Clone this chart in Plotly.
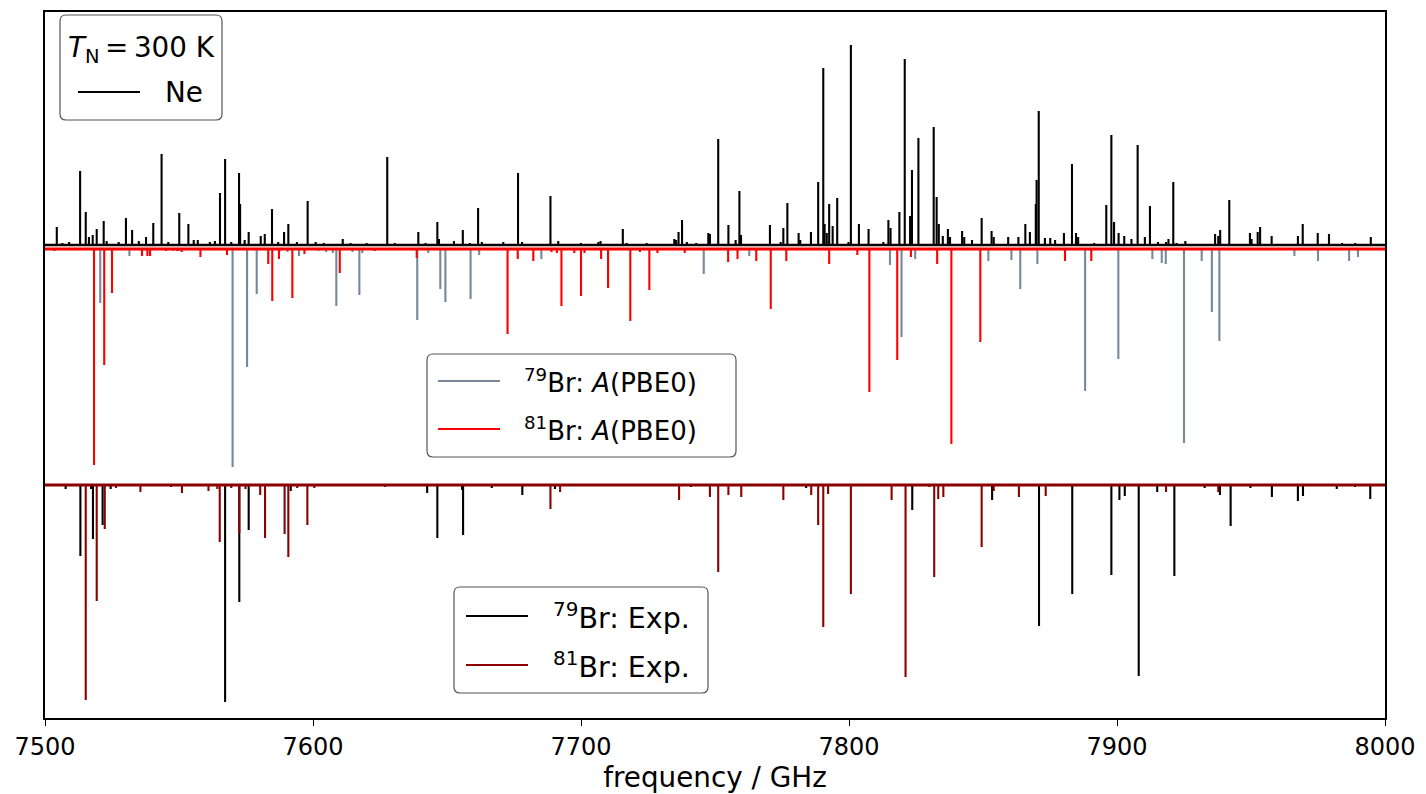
import plotly.graph_objects as go

# ---------------- data (frequency / GHz, relative intensity) ----------------
ne_freq = [7504.4, 7506.5, 7509.0, 7513.1, 7515.2, 7516.4, 7517.8, 7519.3, 7521.9, 7523.0,
           7527.5, 7530.2, 7532.5, 7535.0, 7537.7, 7540.4, 7543.5, 7546.0, 7550.1, 7553.5,
           7555.5, 7557.0, 7561.5, 7563.4, 7565.3, 7567.2, 7569.5, 7572.4, 7572.8, 7574.5,
           7576.0, 7580.5, 7582.0, 7584.7, 7587.0, 7589.2, 7590.8, 7594.0, 7598.0, 7601.0,
           7604.0, 7611.1, 7614.0, 7620.0, 7627.7, 7630.5, 7639.3, 7642.0, 7646.4, 7647.0,
           7652.6, 7655.9, 7658.5, 7661.6, 7663.0, 7671.0, 7676.5, 7678.0, 7688.6, 7691.5,
           7700.0, 7706.5, 7707.3, 7715.6, 7717.0, 7724.5, 7734.8, 7735.5, 7736.4, 7737.7,
           7739.5, 7743.0, 7747.5, 7748.1, 7751.2, 7755.0, 7757.7, 7759.1, 7759.7, 7770.5,
           7774.5, 7775.5, 7777.0, 7781.2, 7781.8, 7785.8, 7788.5, 7790.4, 7790.9, 7791.7,
           7792.6, 7793.9, 7795.6, 7799.8, 7800.7, 7803.7, 7807.3, 7812.8, 7814.7, 7815.5,
           7818.8, 7820.8, 7822.8, 7823.5, 7825.9, 7831.6, 7832.7, 7833.5, 7835.0, 7836.9,
           7837.7, 7842.2, 7843.0, 7845.9, 7849.5, 7853.2, 7854.0, 7859.4, 7863.2, 7865.8,
           7867.5, 7869.7, 7870.0, 7870.8, 7873.1, 7875.1, 7876.9, 7880.2, 7883.2, 7884.7,
           7885.5, 7891.5, 7896.0, 7897.9, 7898.9, 7900.6, 7902.7, 7905.4, 7907.7, 7910.4,
           7912.3, 7915.3, 7918.3, 7919.2, 7921.0, 7922.2, 7925.5, 7936.6, 7937.8, 7938.5,
           7941.9, 7949.6, 7950.2, 7952.5, 7953.4, 7957.7, 7967.5, 7969.3, 7974.9, 7979.1,
           7984.0, 7988.9, 7994.7]
ne_int = [18, 2, 3, 74, 33, 8, 10, 16, 24, 4,
          3, 27, 15, 4, 8, 22, 91, 3, 32, 21,
          5, 5, 3, 4, 52, 86, 3, 72, 41, 5,
          13, 9, 11, 36, 3, 13, 21, 3, 44, 3,
          2, 6, 2, 2, 88, 2, 13, 2, 23, 6,
          4, 15, 2, 37, 3, 3, 72, 3, 49, 4,
          2, 3, 4, 16, 2, 2, 6, 5, 13, 25,
          3, 2, 12, 11, 106, 20, 5, 54, 10, 20,
          3, 17, 42, 12, 5, 13, 63, 177, 21, 12,
          41, 19, 47, 3, 200, 21, 16, 3, 25, 17,
          33, 186, 29, 75, 107, 118, 48, 21, 9, 16,
          8, 14, 8, 5, 27, 14, 8, 8, 8, 21,
          13, 41, 65, 134, 7, 7, 5, 12, 81, 12,
          8, 2, 40, 110, 23, 12, 9, 6, 100, 8,
          39, 3, 3, 6, 63, 2, 4, 11, 9, 15,
          45, 12, 6, 13, 18, 9, 9, 21, 12, 11,
          2, 2, 8]

pbe79_freq = [7520.6, 7531.5, 7547.8, 7550.0, 7570.0, 7575.4, 7579.0, 7587.5, 7590.5, 7594.8,
              7602.0, 7604.9, 7607.4, 7608.7, 7614.7, 7617.3, 7618.4, 7638.9, 7643.0, 7647.5,
              7649.4, 7658.8, 7662.0, 7685.2, 7745.8, 7762.8, 7815.3, 7819.6, 7824.7, 7852.0,
              7860.6, 7863.9, 7870.3, 7888.1, 7900.5, 7913.2, 7916.7, 7918.2, 7925.0, 7931.6,
              7935.4, 7938.2, 7966.2, 7975.0, 7986.6, 7989.9]
pbe79_int = [54, 7, 2, 2, 218, 118, 45, 3, 3, 7,
             2, 3, 4, 57, 3, 46, 4, 71, 4, 40,
             53, 50, 6, 10, 25, 7, 16, 88, 10, 12,
             11, 40, 15, 142, 110, 10, 14, 15, 194, 12,
             63, 92, 7, 12, 12, 8]

pbe81_freq = [7503.5, 7518.3, 7522.1, 7525.0, 7536.2, 7538.2, 7539.2, 7545.2, 7549.3, 7551.0,
              7558.0, 7567.9, 7583.3, 7584.8, 7587.3, 7592.3, 7596.8, 7610.0, 7623.1, 7638.7,
              7672.6, 7676.4, 7682.2, 7689.0, 7691.0, 7692.7, 7697.5, 7700.0, 7701.3, 7707.5,
              7710.1, 7718.4, 7722.0, 7725.5, 7728.5, 7738.7, 7754.9, 7758.4, 7765.4, 7770.8,
              7776.6, 7792.6, 7803.1, 7807.6, 7818.0, 7823.1, 7832.9, 7838.2, 7849.0, 7880.6,
              7890.4]
pbe81_int = [2, 216, 116, 44, 7, 7, 7, 2, 2, 3,
             8, 6, 15, 52, 10, 49, 5, 24, 2, 9,
             85, 10, 12, 3, 4, 57, 4, 47, 4, 10,
             39, 72, 3, 41, 4, 4, 13, 10, 12, 60,
             12, 15, 6, 143, 111, 8, 15, 195, 93, 12,
             12]

exp79_freq = [7507.7, 7513.2, 7517.2, 7517.9, 7521.5, 7524.5, 7567.2, 7572.5, 7576.0, 7591.7,
              7642.6, 7646.4, 7655.6, 7656.0, 7666.7, 7678.1, 7690.3, 7741.0, 7784.0, 7823.6,
              7853.4, 7870.9, 7883.3, 7897.9, 7900.9, 7902.9, 7908.1, 7915.0, 7921.4, 7932.7,
              7938.4, 7942.4, 7949.8, 7957.8, 7967.5, 7969.4, 7982.0, 7988.8, 7994.5]
exp79_int = [4, 71, 4, 54, 40, 4, 217, 117, 45, 6,
             8, 53, 5, 50, 3, 10, 4, 2, 3, 25,
             15, 141, 109, 90, 15, 11, 191, 7, 91, 3,
             10, 41, 3, 12, 16, 11, 4, 2, 14]

exp81_freq = [7515.2, 7519.3, 7522.3, 7526.5, 7535.6, 7547.0, 7551.1, 7561.0, 7564.3, 7565.2,
              7569.5, 7572.5, 7574.8, 7580.3, 7582.1, 7589.4, 7590.8, 7594.1, 7597.9, 7600.5,
              7626.9, 7688.6, 7692.2, 7736.6, 7748.1, 7751.2, 7755.0, 7759.8, 7775.5, 7785.9,
              7788.5, 7790.4, 7792.2, 7800.7, 7815.9, 7821.1, 7830.0, 7831.8, 7833.3, 7835.2,
              7849.5, 7854.0, 7863.4, 7873.4, 7918.3, 7937.8]
exp81_int = [215, 116, 44, 3, 7, 2, 8, 6, 4, 57,
             3, 48, 4, 10, 53, 49, 72, 3, 40, 3,
             2, 24, 7, 15, 12, 87, 10, 12, 15, 10,
             40, 142, 9, 109, 15, 192, 2, 92, 14, 12,
             62, 6, 12, 11, 7, 7]

x_ticks = [7500, 7600, 7700, 7800, 7900, 8000]

legend_title = "<i>T</i><sub>N</sub>\u2009=\u2009300 K"
name_ne = "Ne"
name_pbe79 = "<sup>79</sup>Br: <i>A</i>(PBE0)"
name_pbe81 = "<sup>81</sup>Br: <i>A</i>(PBE0)"
name_exp79 = "<sup>79</sup>Br: Exp."
name_exp81 = "<sup>81</sup>Br: Exp."

# ---------------- layout constants ----------------
BASE_NE, BASE_PBE, BASE_EXP = 0, -4, -240
FONT = "DejaVu Sans"
LW = 2.1
C_NE, C_79, C_81, C_E79, C_E81 = "black", "#778899", "#ff0000", "black", "#8b0000"

W, H = 1426, 794
ML, MR, MT, MB = 45, 41, 12, 76
PW, PH = W - ML - MR, H - MT - MB


def px(xp):
    return (xp - ML) / PW


def py(yp):
    return (H - MB - yp) / PH


def sticks(freqs, ints, base, sign):
    xs, ys = [], []
    for f, v in zip(freqs, ints):
        xs += [f, f, None]
        ys += [base, base + sign * v, None]
    return xs, ys


fig = go.Figure()


def add_series(freqs, ints, base, sign, color, name):
    xs, ys = sticks(freqs, ints, base, sign)
    fig.add_trace(go.Scatter(x=xs, y=ys, mode="lines", line=dict(color=color, width=LW),
                             name=name, showlegend=False, hoverinfo="skip"))


def add_base(base, color, width):
    fig.add_trace(go.Scatter(x=[7500, 8000], y=[base, base], mode="lines",
                             line=dict(color=color, width=width), showlegend=False,
                             hoverinfo="skip"))


add_series(ne_freq, ne_int, BASE_NE, 1, C_NE, name_ne)
add_base(BASE_NE, C_NE, 2.4)
add_series(pbe79_freq, pbe79_int, BASE_PBE, -1, C_79, name_pbe79)
add_series(pbe81_freq, pbe81_int, BASE_PBE, -1, C_81, name_pbe81)
add_base(BASE_PBE, C_81, 3)
add_series(exp79_freq, exp79_int, BASE_EXP, -1, C_E79, name_exp79)
add_series(exp81_freq, exp81_int, BASE_EXP, -1, C_E81, name_exp81)
add_base(BASE_EXP, C_E81, 3)

# ---------------- hand-drawn legends (rounded frames) ----------------
shapes, annots = [], []


def rrect(x0, y0, x1, y1, r=6):
    rx, ry = r / PW, r / PH
    X0, X1, Y0, Y1 = px(x0), px(x1), py(y0), py(y1)
    return (f"M{X0+rx},{Y0} L{X1-rx},{Y0} Q{X1},{Y0} {X1},{Y0-ry} "
            f"L{X1},{Y1+ry} Q{X1},{Y1} {X1-rx},{Y1} L{X0+rx},{Y1} "
            f"Q{X0},{Y1} {X0},{Y1+ry} L{X0},{Y0-ry} Q{X0},{Y0} {X0+rx},{Y0} Z")


def frame(x0, y0, x1, y1):
    shapes.append(dict(type="path", path=rrect(x0, y0, x1, y1), xref="paper", yref="paper",
                       fillcolor="white", line=dict(color="#555555", width=1.2), layer="above"))


def entry(xl0, xl1, yc, xt, color, text, size=27.8):
    shapes.append(dict(type="line", xref="paper", yref="paper", x0=px(xl0), x1=px(xl1),
                       y0=py(yc), y1=py(yc), line=dict(color=color, width=LW), layer="above"))
    annots.append(dict(text=text, xref="paper", yref="paper", x=px(xt), y=py(yc),
                       xanchor="left", yanchor="middle", showarrow=False,
                       font=dict(family=FONT, size=size, color="black")))


frame(60, 15, 222, 120)
annots.append(dict(text=legend_title, xref="paper", yref="paper", x=px(141), y=py(50),
                   xanchor="center", yanchor="middle", showarrow=False,
                   font=dict(family=FONT, size=27.8, color="black")))
entry(78, 140, 92, 163, C_NE, name_ne)

frame(427, 354, 736, 457)
entry(438, 500, 381, 522, C_79, name_pbe79, 26)
entry(438, 500, 429, 522, C_81, name_pbe81, 26)

frame(454, 587, 708, 693)
entry(466, 528, 616, 551, C_E79, name_exp79, 28.5)
entry(466, 528, 665, 551, C_E81, name_exp81, 28.5)

fig.update_layout(
    width=W, height=H,
    margin=dict(l=ML, r=MR, t=MT, b=MB),
    paper_bgcolor="white", plot_bgcolor="white",
    font=dict(family=FONT, size=24, color="black"),
    showlegend=False,
    xaxis=dict(range=[7500, 8000], tickvals=x_ticks, ticktext=[str(t) for t in x_ticks],
               ticks="outside", ticklen=6, tickwidth=1.3, tickcolor="black",
               showline=True, linecolor="black", linewidth=1.5, mirror=True,
               showgrid=False, zeroline=False, tickfont=dict(size=24), automargin=False,
               title=dict(text="frequency / GHz", font=dict(size=27.8), standoff=4)),
    yaxis=dict(range=[-473, 233], showticklabels=False, ticks="", automargin=False,
               showline=True, linecolor="black", linewidth=1.5, mirror=True,
               showgrid=False, zeroline=False),
    shapes=shapes, annotations=annots,
)

fig.write_html("out.html", config={"displayModeBar": False},
               post_script="document.body.style.margin='0';document.body.style.overflow='hidden';")
